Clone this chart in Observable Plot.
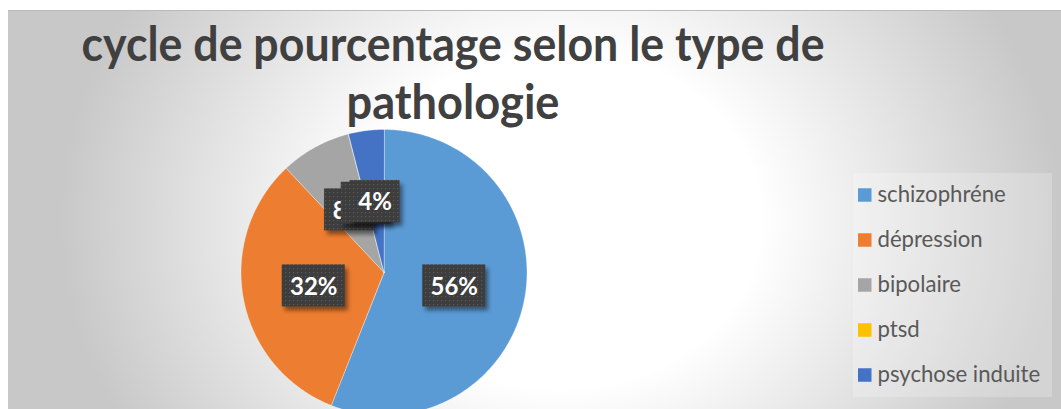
<!DOCTYPE html>
<html><head><meta charset="utf-8">
<script src="https://cdn.jsdelivr.net/npm/d3@7"></script>
<script src="https://cdn.jsdelivr.net/npm/@observablehq/plot@0.6"></script>
<style>
html,body{margin:0;padding:0;background:#fff;width:1061px;height:409px;overflow:hidden;}
#chart{position:absolute;left:8px;top:10px;width:1053px;height:398px;overflow:hidden;
 border-top:1px solid #bababa;
 background:radial-gradient(ellipse 500px 420px at 552px 209px,#ffffff 0%,#ffffff 40%,#c8c8c8 100%);}
#overlay,#plot{position:absolute;left:0;top:0;}
.lblbox rect{filter:drop-shadow(3px 4px 2px rgba(0,0,0,0.45));}
</style></head><body>
<div id="chart"><svg id="overlay" width="1053" height="398"></svg><div id="plot"></div></div>
<script>
// ---- data ----
const titleLines = ["cycle de pourcentage selon le type de", "pathologie"];
const names = ["schizophréne", "dépression", "bipolaire", "ptsd", "psychose induite"];
const values = [56, 32, 8, 0, 4];
const labels = ["56%", "32%", "8%", "0%", "4%"];
const colors = ["#5B9BD5", "#ED7D31", "#A5A5A5", "#FFC000", "#4472C4"];

// ---- layout ----
const W = 1053, H = 398, cx = 375.5, cy = 261, R = 143;

const rows = names.map((name, i) => ({name, value: values[i], label: labels[i]}));
const arcs = d3.pie().sort(null).value(d => d.value)(rows);

// slice outlines (sampled arc for each slice)
const pts = [];
for (const a of arcs) {
  pts.push({name: a.data.name, x: 0, y: 0});
  const n = Math.max(2, Math.ceil((a.endAngle - a.startAngle) / 0.01));
  for (let k = 0; k <= n; k++) {
    const t = a.startAngle + (a.endAngle - a.startAngle) * k / n;
    pts.push({name: a.data.name, x: Math.sin(t), y: Math.cos(t)});
  }
}
const lbl = arcs.map(a => {
  const m = (a.startAngle + a.endAngle) / 2;
  return {label: a.data.label, x: 0.5 * Math.sin(m), y: 0.5 * Math.cos(m)};
});

const labelMarks = lbl.flatMap(d => {
  const hw = d.label.length > 2 ? 31.5 : 25;
  return [
    Plot.rect([d], {x1: "x", x2: "x", y1: "y", y2: "y", fill: "url(#dots)",
      insetLeft: -hw, insetRight: -hw, insetTop: -21, insetBottom: -21, className: "lblbox"}),
    Plot.text([d], {x: "x", y: "y", text: "label", fill: "white", fontSize: 24,
      fontWeight: "bold", fontFamily: "Lato, sans-serif", dy: 1})
  ];
});

const plot = Plot.plot({
  width: W, height: H, margin: 0,
  style: {background: "transparent"},
  x: {domain: [-1, 1], range: [cx - R, cx + R], axis: null},
  y: {domain: [-1, 1], range: [cy + R, cy - R], axis: null},
  color: {domain: names, range: colors},
  marks: [
    Plot.line(pts, {x: "x", y: "y", z: "name", fill: "name", stroke: "#ffffff",
      strokeWidth: 0.6, strokeOpacity: 0.6, curve: "linear-closed"}),
    ...labelMarks
  ]
});
d3.select(plot).insert("defs", ":first-child").html(
  '<pattern id="dots" width="4" height="4" patternUnits="userSpaceOnUse">' +
  '<rect width="4" height="4" fill="#3d3d3d"/><rect x="1" y="1" width="1.2" height="1.2" fill="#5a5a5a"/></pattern>');
document.getElementById("plot").appendChild(plot);

// ---- title + legend ----
const ov = d3.select("#overlay");
const tl = [{t: titleLines[0], y: 49.5, w: 743}, {t: titleLines[1], y: 108, w: 213}];
tl.forEach(d => {
  ov.append("text").attr("x", 445).attr("y", d.y).attr("text-anchor", "middle")
    .attr("font-family", "Lato, sans-serif").attr("font-weight", "bold").attr("font-size", 48)
    .attr("fill", "#404040").attr("textLength", d.w).attr("lengthAdjust", "spacingAndGlyphs").text(d.t);
});
ov.append("rect").attr("x", 845).attr("y", 162).attr("width", 199).attr("height", 224)
  .attr("fill", "#ffffff").attr("fill-opacity", 0.22);
const lg = ov.append("g");
names.forEach((n, i) => {
  const c = 184 + 45 * i;
  lg.append("rect").attr("x", 850).attr("y", c - 6.75).attr("width", 13.5).attr("height", 13.5).attr("fill", colors[i]);
  lg.append("text").attr("class", "lgt").attr("x", 869.5).attr("y", c + 7)
    .attr("font-family", "Lato, sans-serif").attr("font-size", 24).attr("fill", "#595959").text(n);
});
const first = lg.select("text.lgt").node();
const len = first.getComputedTextLength();
if (len > 0) lg.selectAll("text.lgt").attr("font-size", 24 * 128.4 / len);
</script>
</body></html>
